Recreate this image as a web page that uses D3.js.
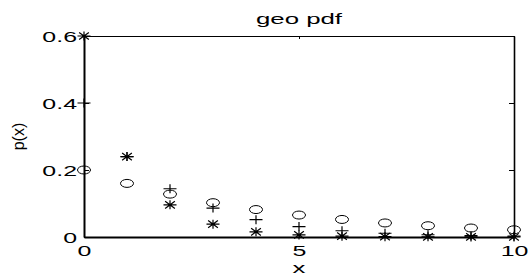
<!DOCTYPE html>
<html>
<head>
<meta charset="utf-8">
<script src="https://cdn.jsdelivr.net/npm/d3@7"></script>
<style>
  html, body { margin: 0; padding: 0; background: #fff; }
  svg { display: block; }
  text { font-family: "Liberation Sans", Arial, Helvetica, sans-serif; fill: #000; }
</style>
</head>
<body>
<svg id="chart" width="529" height="280"></svg>
<script>
// ---- data ----
const xValues = [0, 1, 2, 3, 4, 5, 6, 7, 8, 9, 10];
const seriesCircle = [0.2, 0.16, 0.128, 0.1024, 0.0819, 0.0655, 0.0524, 0.0419, 0.0336, 0.0268, 0.0215];
const seriesPlus   = [0.4, 0.24, 0.144, 0.0864, 0.0518, 0.0311, 0.0187, 0.0112, 0.0067, 0.0040, 0.0024];
const seriesStar   = [0.6, 0.24, 0.096, 0.0384, 0.0154, 0.0061, 0.0025, 0.0010, 0.0004, 0.0002, 0.0001];
const xTicks = [0, 5, 10];
const xTickLabels = ["0", "5", "10"];
const yTicks = [0, 0.2, 0.4, 0.6];
const yTickLabels = ["0", "0.2", "0.4", "0.6"];
const titleText = "geo pdf";
const xLabelText = "x";
const yLabelText = "p(x)";

// ---- layout ----
const L = 84, R = 514, T = 36, B = 237;
const SX = 1.72;        // horizontal glyph stretch seen in the reference
const FS = 14.5;

const svg = d3.select("#chart");
const x = d3.scaleLinear().domain([0, 10]).range([L, R]);
const y = d3.scaleLinear().domain([0, 0.6]).range([B, T]);

// axes
const gTop = svg.append("g").attr("transform", `translate(0,${T})`)
  .call(d3.axisTop(x).tickValues(xTicks).tickSizeInner(-3).tickSizeOuter(0).tickFormat(""));
const gRight = svg.append("g").attr("transform", `translate(${R},0)`)
  .call(d3.axisRight(y).tickValues(yTicks).tickSizeInner(-5).tickSizeOuter(0).tickFormat(""));
const gBottom = svg.append("g").attr("transform", `translate(0,${B})`)
  .call(d3.axisBottom(x).tickValues(xTicks).tickSizeInner(-3).tickSizeOuter(0)
    .tickFormat((d, i) => xTickLabels[i]));
const gLeft = svg.append("g").attr("transform", `translate(${L},0)`)
  .call(d3.axisLeft(y).tickValues(yTicks).tickSizeInner(-5).tickSizeOuter(0)
    .tickFormat((d, i) => yTickLabels[i]));

[gTop, gRight, gBottom, gLeft].forEach(g => {
  g.selectAll("line").attr("stroke", "#000").attr("stroke-width", 1);
  g.attr("font-size", null).attr("font-family", null);
});
gTop.select(".domain").attr("stroke", "#000").attr("stroke-width", 1);
gRight.select(".domain").attr("stroke", "#000").attr("stroke-width", 1.6);
gBottom.select(".domain").attr("stroke", "#000").attr("stroke-width", 2);
gLeft.select(".domain").attr("stroke", "#000").attr("stroke-width", 2);

gLeft.selectAll(".tick text")
  .attr("x", 0).attr("dy", null).attr("y", 0)
  .attr("text-anchor", "end")
  .style("font-size", FS + "px")
  .attr("transform", `translate(-7,5.5) scale(${SX},1)`);
gBottom.selectAll(".tick text")
  .attr("x", 0).attr("dy", null).attr("y", 0)
  .attr("text-anchor", "middle")
  .style("font-size", FS + "px")
  .attr("transform", `translate(0,19) scale(${SX},1)`);

// title & axis labels
svg.append("text").text(titleText)
  .attr("text-anchor", "middle").style("font-size", "15px")
  .attr("transform", `translate(${(L + R) / 2},24) scale(${SX},1)`);
svg.append("text").text(xLabelText)
  .attr("text-anchor", "middle").style("font-size", "15px")
  .attr("transform", `translate(${(L + R) / 2},273) scale(${SX},1)`);
svg.append("text").text(yLabelText)
  .attr("text-anchor", "middle").style("font-size", "16px")
  .attr("transform", `translate(24,${(T + B) / 2}) rotate(-90)`);

// markers
const mw = 6.5, mh = 4.5;
const plusPath = `M${-mw},0H${mw}M0,${-mh}V${mh}`;
const starPath = plusPath + `M${-mw * 0.75},${-mh * 0.8}L${mw * 0.75},${mh * 0.8}M${-mw * 0.75},${mh * 0.8}L${mw * 0.75},${-mh * 0.8}`;

const marks = svg.append("g").attr("fill", "none").attr("stroke", "#000");
marks.selectAll("ellipse").data(xValues).join("ellipse")
  .attr("cx", d => x(d)).attr("cy", (d, i) => y(seriesCircle[i]))
  .attr("rx", 6.5).attr("ry", 4).attr("stroke-width", 1);
marks.selectAll("path.plus").data(xValues).join("path").attr("class", "plus")
  .attr("d", plusPath).attr("stroke-width", 1.2)
  .attr("transform", (d, i) => `translate(${x(d)},${y(seriesPlus[i])})`);
marks.selectAll("path.star").data(xValues).join("path").attr("class", "star")
  .attr("d", starPath).attr("stroke-width", 1.2)
  .attr("transform", (d, i) => `translate(${x(d)},${y(seriesStar[i])})`);
</script>
</body>
</html>
